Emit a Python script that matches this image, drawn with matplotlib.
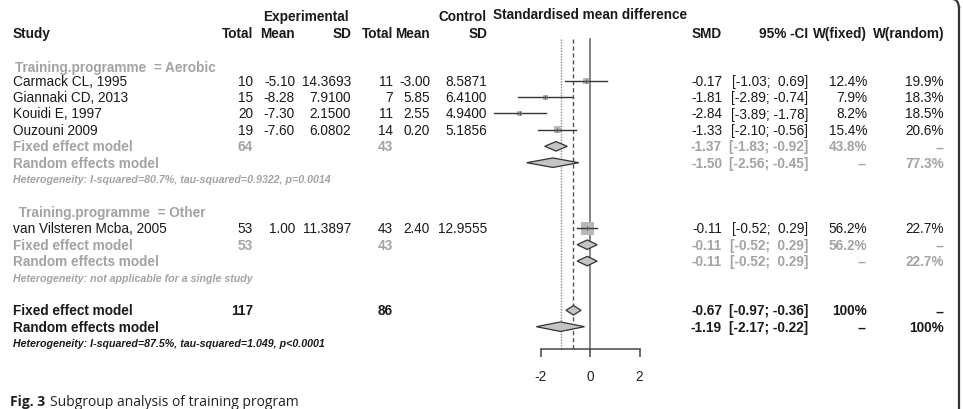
import matplotlib
matplotlib.use("Agg")
import matplotlib.pyplot as plt
from matplotlib.patches import Polygon

plt.rcParams['font.family'] = ['Liberation Sans', 'DejaVu Sans']
plt.rcParams['axes.unicode_minus'] = False

# study level data
studies = ["Carmack CL, 1995", "Giannaki CD, 2013", "Kouidi E, 1997",
           "Ouzouni 2009", "van Vilsteren Mcba, 2005"]
groups = ["Aerobic", "Aerobic", "Aerobic", "Aerobic", "Other"]
e_total = [10, 15, 20, 19, 53]
e_mean = [-5.10, -8.28, -7.30, -7.60, 1.00]
e_sd = [14.3693, 7.9100, 2.1500, 6.0802, 11.3897]
c_total = [11, 7, 11, 14, 43]
c_mean = [-3.00, 5.85, 2.55, 0.20, 2.40]
c_sd = [8.5871, 6.4100, 4.9400, 5.1856, 12.9555]
smd = [-0.17, -1.81, -2.84, -1.33, -0.11]
ci_lo = [-1.03, -2.89, -3.89, -2.10, -0.52]
ci_hi = [0.69, -0.74, -1.78, -0.56, 0.29]
w_fixed = [12.4, 7.9, 8.2, 15.4, 56.2]
w_random = [19.9, 18.3, 18.5, 20.6, 22.7]

# subgroup summaries: fixed then random
sub_names = ["Aerobic", "Other"]
sub_e_total = [64, 53]
sub_c_total = [43, 43]
sub_fixed = [(-1.37, -1.83, -0.92), (-0.11, -0.52, 0.29)]
sub_random = [(-1.50, -2.56, -0.45), (-0.11, -0.52, 0.29)]
sub_wfixed = [43.8, 56.2]
sub_wrandom = [77.3, 22.7]
sub_het = ["Heterogeneity: I-squared=80.7%, tau-squared=0.9322, p=0.0014",
           "Heterogeneity: not applicable for a single study"]

# overall
all_e_total = 117
all_c_total = 86
all_fixed = (-0.67, -0.97, -0.36)
all_random = (-1.19, -2.17, -0.22)
all_het = "Heterogeneity: I-squared=87.5%, tau-squared=1.049, p<0.0001"

xticks = [-2, 0, 2]

W, H = 963, 410
fig = plt.figure(figsize=(W / 100, H / 100), dpi=100)

# rows -> pixels: y = r0 + dr * row
r0, dr = 32.5, 16.4
def row_of(px):
    return (px - r0) / dr

tax = fig.add_axes([0, 0, 1, 1])
tax.set_xlim(0, W)
tax.set_ylim(row_of(H), row_of(0))
tax.axis('off')

# forest panel, x in SMD units
unit = 24.75
zero_px = 590
axis_px = 350
xl, xr = -4.5, 3.5
fax = fig.add_axes([(zero_px + xl * unit) / W, (H - axis_px) / H,
                    (xr - xl) * unit / W, axis_px / H])
fax.set_xlim(xl, xr)
fax.set_ylim(row_of(axis_px), row_of(0))
fax.patch.set_alpha(0)
for s in ['top', 'right', 'left']:
    fax.spines[s].set_visible(False)
fax.spines['bottom'].set_bounds(-2, 2)
fax.spines['bottom'].set_color('#444444')
fax.spines['bottom'].set_linewidth(1.1)
fax.set_yticks([])
fax.set_xticks(xticks)
fax.set_xticklabels([str(t) for t in xticks])
fax.tick_params(axis='x', direction='out', length=6, width=1.1, color='#444444',
                pad=8.5, labelsize=9.8, labelcolor='#222222')

fs = 9.8
BLACK = '#1a1a1a'
GRAY = '#a3a3a3'

# column right edges (pixels)
x_study = 13
x_et, x_em, x_es = 253, 295, 351
x_ct, x_cm, x_cs = 393, 430, 487
x_smd, x_ci, x_wf, x_wr = 722, 808, 867, 944

def txt(x, r, s, ha='right', color=BLACK, weight='normal', style='normal', size=fs):
    tax.text(x, r, s, ha=ha, va='center', color=color, fontweight=weight,
             fontstyle=style, fontsize=size)

def ci_str(v):
    return f"[{v[1]:.2f}; {v[2]:5.2f}]"

# headers
txt(306, -0.95, "Experimental", ha='center', weight='bold')
txt(x_cs, -0.95, "Control", weight='bold')
txt(590, -1.05, "Standardised mean difference", ha='center', weight='bold')
txt(x_study, 0.1, "Study", ha='left', weight='bold')
for x, s in [(x_et, "Total"), (x_em, "Mean"), (x_es, "SD"), (x_ct, "Total"),
             (x_cm, "Mean"), (x_cs, "SD"), (x_smd, "SMD"), (x_ci, "95% -CI"),
             (x_wf, "W(fixed)"), (x_wr, "W(random)")]:
    txt(x, 0.1, s, weight='bold')

def diamond(r, v, color_edge='#333333', h=0.29):
    est, lo, hi = v
    fax.add_patch(Polygon([(lo, r), (est, r - h), (hi, r), (est, r + h)],
                          closed=True, facecolor='#c4c4c4', edgecolor=color_edge,
                          linewidth=0.9, zorder=3))

def summary_rows(r, name_f, name_r, et, ct, vf, vr, wf, wr, color, het, het_color):
    txt(x_study, r, name_f, ha='left', color=color, weight='bold')
    txt(x_et, r, str(et), color=color, weight='bold')
    txt(x_ct, r, str(ct), color=color, weight='bold')
    txt(x_smd, r, f"{vf[0]:.2f}", color=color, weight='bold')
    txt(x_ci, r, ci_str(vf), color=color, weight='bold')
    txt(x_wf, r, wf, color=color, weight='bold')
    txt(x_wr, r, "--", color=color, weight='bold')
    diamond(r, vf)
    txt(x_study, r + 1, name_r, ha='left', color=color, weight='bold')
    txt(x_smd, r + 1, f"{vr[0]:.2f}", color=color, weight='bold')
    txt(x_ci, r + 1, ci_str(vr), color=color, weight='bold')
    txt(x_wf, r + 1, "--", color=color, weight='bold')
    txt(x_wr, r + 1, wr, color=color, weight='bold')
    diamond(r + 1, vr)
    txt(x_study, r + 2, het, ha='left', color=het_color, weight='bold',
        style='italic', size=7.7)

max_w = max(w_fixed)
row = 2
for g, gname in enumerate(sub_names):
    label = ("Training.programme  = " if g == 0 else " Training.programme  = ") + gname
    txt(x_study + 2, row + (0.15 if g == 0 else 0), label, ha='left', color=GRAY, weight='bold')
    row += 1
    for i in range(len(studies)):
        if groups[i] != gname:
            continue
        txt(x_study, row, studies[i], ha='left')
        txt(x_et, row, str(e_total[i]))
        txt(x_em, row, f"{e_mean[i]:.2f}")
        txt(x_es, row, f"{e_sd[i]:.4f}")
        txt(x_ct, row, str(c_total[i]))
        txt(x_cm, row, f"{c_mean[i]:.2f}")
        txt(x_cs, row, f"{c_sd[i]:.4f}")
        txt(x_smd, row, f"{smd[i]:.2f}")
        txt(x_ci, row, ci_str((smd[i], ci_lo[i], ci_hi[i])))
        txt(x_wf, row, f"{w_fixed[i]:.1f}%")
        txt(x_wr, row, f"{w_random[i]:.1f}%")
        side_px = 13.5 * (w_fixed[i] / max_w) ** 0.5
        fax.scatter([smd[i]], [row], marker='s', s=(side_px * 0.72) ** 2,
                    color='#b8b8b8', edgecolors='none', zorder=2)
        fax.plot([ci_lo[i], ci_hi[i]], [row, row], color='#333333', lw=1.0, zorder=3)
        fax.plot([smd[i]], [row], marker='+', ms=3, color='#555555', mew=0.8, zorder=4)
        row += 1
    summary_rows(row, "Fixed effect model", "Random effects model",
                 sub_e_total[g], sub_c_total[g], sub_fixed[g], sub_random[g],
                 f"{sub_wfixed[g]:.1f}%", f"{sub_wrandom[g]:.1f}%", GRAY,
                 sub_het[g], GRAY)
    row += 4

summary_rows(row, "Fixed effect model", "Random effects model",
             all_e_total, all_c_total, all_fixed, all_random,
             "100%", "100%", BLACK, all_het, BLACK)

# reference lines
top_r = row_of(40)
bot_r = row_of(axis_px)
fax.plot([0, 0], [top_r, bot_r], color='#7a7a7a', lw=1.3, zorder=1)
fax.plot([all_fixed[0]] * 2, [top_r, bot_r], color='#555555', lw=1.0,
         ls=(0, (3, 2)), zorder=1)
fax.plot([all_random[0]] * 2, [top_r, bot_r], color='#8a8a8a', lw=1.0,
         ls=(0, (1, 1)), zorder=1)

# frame edge on the right
tax.plot([959, 959], [row_of(8), row_of(H)], color='#333333', lw=1.6)
tax.plot([953, 956, 958, 959], [row_of(0), row_of(1), row_of(4), row_of(8)],
         color='#333333', lw=1.6)

# caption
tax.text(10, row_of(402), "Fig. 3", ha='left', va='center', fontsize=10,
         fontweight='bold', family=['Open Sans', 'DejaVu Sans'], color='#222222')
tax.text(50, row_of(402), "Subgroup analysis of training program", ha='left',
         va='center', fontsize=10, family=['Open Sans', 'DejaVu Sans'], color='#222222')

fig.savefig("out.png", dpi=100)
